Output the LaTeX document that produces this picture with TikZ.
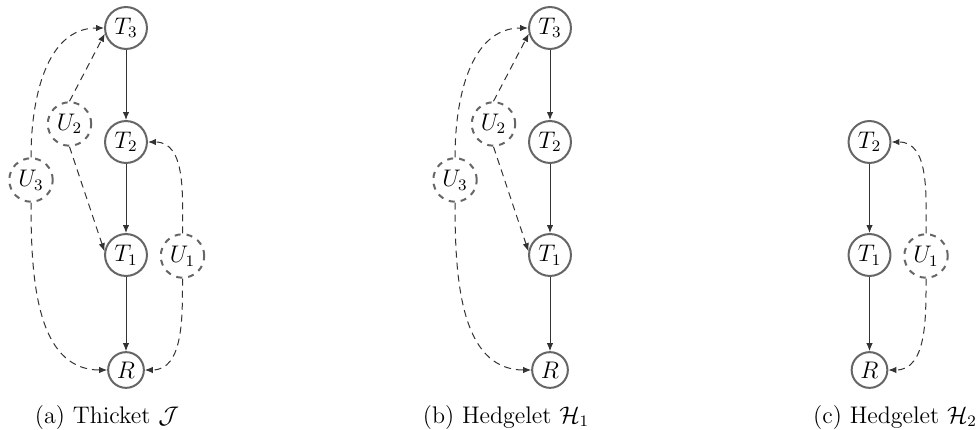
\documentclass[tikz,border=0pt]{standalone}
\usetikzlibrary{arrows.meta}
\begin{document}
\begin{tikzpicture}[x=0.5pt,y=0.5pt,
  var/.style={circle,draw=black!60,line width=1pt,inner sep=2pt,minimum size=17.5pt,font=\fontsize{11.5}{13}\selectfont},
  lat/.style={var,dashed},
  obs/.style={-{Latex[length=4pt,width=3.2pt]},black!80,line width=0.5pt},
  conf/.style={obs,dashed,dash pattern=on 3.5pt off 2.5pt},
  captext/.style={font=\rmfamily\fontsize{12}{14}\selectfont,anchor=base,inner sep=0pt}]
\useasboundingbox (0,0) rectangle (978,429);
% panel (a)
\node[var] (T3a) at (126,401) {$T_3$};
\node[var] (T2a) at (126,287) {$T_2$};
\node[var] (T1a) at (126,174) {$T_1$};
\node[var] (Ra)  at (126,59)  {$R$};
\node[lat] (U2a) at (69.5,305) {$U_2$};
\node[lat] (U3a) at (31,249) {$U_3$};
\node[lat] (U1a) at (182.5,173) {$U_1$};
\draw[obs] (T3a) -- (T2a);
\draw[obs] (T2a) -- (T1a);
\draw[obs] (T1a) -- (Ra);
\draw[conf] (U3a.north) to[out=90,in=180] (T3a.west);
\draw[conf] (U3a.south) to[out=-90,in=180] (Ra.west);
\draw[conf] (U2a.north) -- (T3a.195);
\draw[conf] (U2a.south) -- (T1a.170);
\draw[conf] (U1a.north) to[out=90,in=0] (T2a.east);
\draw[conf] (U1a.south) to[out=-90,in=0] (Ra.east);
\node[captext] (capa) at (107,6) {(a) Thicket $\mathcal{J}$};
% panel (b)
\node[var] (T3b) at (550,401) {$T_3$};
\node[var] (T2b) at (550,287) {$T_2$};
\node[var] (T1b) at (550,174) {$T_1$};
\node[var] (Rb)  at (550,59)  {$R$};
\node[lat] (U2b) at (493.5,305) {$U_2$};
\node[lat] (U3b) at (455,249) {$U_3$};
\draw[obs] (T3b) -- (T2b);
\draw[obs] (T2b) -- (T1b);
\draw[obs] (T1b) -- (Rb);
\draw[conf] (U3b.north) to[out=90,in=180] (T3b.west);
\draw[conf] (U3b.south) to[out=-90,in=180] (Rb.west);
\draw[conf] (U2b.north) -- (T3b.195);
\draw[conf] (U2b.south) -- (T1b.170);
\node[captext] (capb) at (506,6) {(b) Hedgelet $\mathcal{H}_1$};
% panel (c)
\node[var] (T2c) at (869.5,287) {$T_2$};
\node[var] (T1c) at (869.5,174) {$T_1$};
\node[var] (Rc)  at (869.5,59)  {$R$};
\node[lat] (U1c) at (926,173) {$U_1$};
\draw[obs] (T2c) -- (T1c);
\draw[obs] (T1c) -- (Rc);
\draw[conf] (U1c.north) to[out=90,in=0] (T2c.east);
\draw[conf] (U1c.south) to[out=-90,in=0] (Rc.east);
\node[captext] (capc) at (895,6) {(c) Hedgelet $\mathcal{H}_2$};
\end{tikzpicture}
\end{document}
